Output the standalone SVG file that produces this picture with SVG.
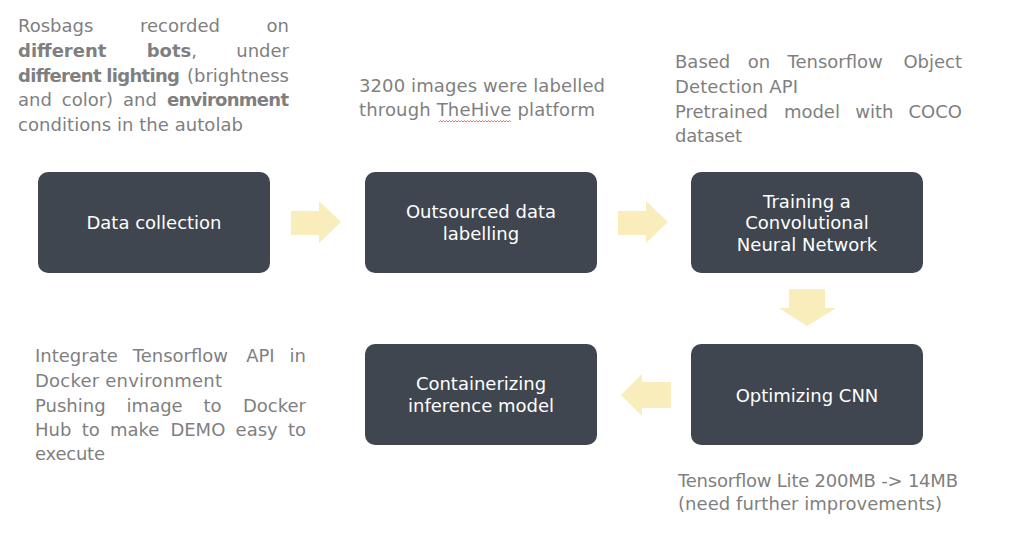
<svg xmlns="http://www.w3.org/2000/svg" width="1014" height="550" viewBox="0 0 1014 550">
<style>
.t{font-family:"DejaVu Sans","Liberation Sans",sans-serif;font-size:18px;fill:#7f7f7f}
.b{font-weight:bold}
.e{text-anchor:end}
.box{fill:#3f4650}
.w{font-family:"DejaVu Sans","Liberation Sans",sans-serif;font-size:18px;fill:#ffffff;text-anchor:middle}
.arr{fill:#f9edbb}
</style>
<rect width="1014" height="550" fill="#ffffff"/>

<g id="connectors">
<polygon class="arr" points="291,211 319,211 319,201 341,222 319,243 319,235 291,235"/>
<polygon class="arr" points="618,211 646,211 646,201 668,222 646,243 646,235 618,235"/>
<polygon class="arr" points="789,289 825,289 825,308 836,308 807,326 779,308 789,308"/>
<polygon class="arr" points="671,382 642,382 642,374 621,395 642,416 642,408 671,408"/>
</g>

<g id="node-data-collection">
<rect class="box" x="38" y="172" width="232" height="101" rx="10"/>
<text class="w" x="154" y="229">Data collection</text>
</g>
<g id="node-outsourced">
<rect class="box" x="365" y="172" width="232" height="101" rx="10"/>
<text class="w" x="481" y="218">Outsourced data</text>
<text class="w" x="481" y="240">labelling</text>
</g>
<g id="node-training">
<rect class="box" x="691" y="172" width="232" height="101" rx="10"/>
<text class="w" x="807" y="208">Training a</text>
<text class="w" x="807" y="229">Convolutional</text>
<text class="w" x="807" y="251">Neural Network</text>
</g>
<g id="node-optimizing">
<rect class="box" x="691" y="344" width="232" height="101" rx="10"/>
<text class="w" x="807" y="402">Optimizing CNN</text>
</g>
<g id="node-containerizing">
<rect class="box" x="365" y="344" width="232" height="101" rx="10"/>
<text class="w" x="481" y="390">Containerizing</text>
<text class="w" x="481" y="412">inference model</text>
</g>

<g id="note-data">
<text class="t" x="18" y="32">Rosbags</text>
<text class="t" x="140" y="32">recorded</text>
<text class="t e" x="289" y="32">on</text>
<text class="t b" x="18" y="57">different</text>
<text class="t" x="146.7" y="57"><tspan class="b">bots</tspan>,</text>
<text class="t e" x="289" y="57">under</text>
<text class="t b" x="18" y="82" textLength="162">different lighting</text>
<text class="t e" x="289" y="82">(brightness</text>
<text class="t" x="18" y="106">and</text>
<text class="t" x="61.8" y="106">color)</text>
<text class="t" x="123.1" y="106">and</text>
<text class="t b e" x="289" y="106" textLength="122">environment</text>
<text class="t" x="18" y="131" textLength="225">conditions in the autolab</text>
</g>

<g id="note-labelling">
<text class="t" x="359" y="92" textLength="246">3200 images were labelled</text>
<text class="t" x="359" y="116" textLength="236">through TheHive platform</text>
<path d="M439 122 l1.5 -1.5 l1.5 1.5 l1.5 -1.5 l1.5 1.5 l1.5 -1.5 l1.5 1.5 l1.5 -1.5 l1.5 1.5 l1.5 -1.5 l1.5 1.5 l1.5 -1.5 l1.5 1.5 l1.5 -1.5 l1.5 1.5 l1.5 -1.5 l1.5 1.5 l1.5 -1.5 l1.5 1.5 l1.5 -1.5 l1.5 1.5 l1.5 -1.5 l1.5 1.5 l1.5 -1.5 l1.5 1.5 l1.5 -1.5 l1.5 1.5 l1.5 -1.5 l1.5 1.5 l1.5 -1.5 l1.5 1.5 l1.5 -1.5 l1.5 1.5 l1.5 -1.5 l1.5 1.5 l1.5 -1.5 l1.5 1.5 l1.5 -1.5 l1.5 1.5 l1.5 -1.5 l1.5 1.5 l1.5 -1.5 l1.5 1.5 l1.5 -1.5 l1.5 1.5 l1.5 -1.5 l1.5 1.5 l1.5 -1.5 l1.5 1.5" fill="none" stroke="#e06666" stroke-width="0.9"/>
</g>

<g id="note-training">
<text class="t" x="675" y="68">Based</text>
<text class="t" x="747.7" y="68">on</text>
<text class="t" x="787.5" y="68">Tensorflow</text>
<text class="t e" x="962" y="68">Object</text>
<text class="t" x="675" y="93" textLength="123">Detection API</text>
<text class="t" x="675" y="118">Pretrained</text>
<text class="t" x="783.9" y="118">model</text>
<text class="t" x="855.2" y="118">with</text>
<text class="t e" x="962" y="118">COCO</text>
<text class="t" x="675" y="142" textLength="67">dataset</text>
</g>

<g id="note-containerizing">
<text class="t" x="35" y="362">Integrate</text>
<text class="t" x="132.8" y="362">Tensorflow</text>
<text class="t" x="246.2" y="362">API</text>
<text class="t e" x="306" y="362">in</text>
<text class="t" x="35" y="387" textLength="187">Docker environment</text>
<text class="t" x="35" y="412">Pushing</text>
<text class="t" x="126.6" y="412">image</text>
<text class="t" x="203.4" y="412">to</text>
<text class="t e" x="306" y="412">Docker</text>
<text class="t" x="35" y="436">Hub</text>
<text class="t" x="81.7" y="436">to</text>
<text class="t" x="110" y="436">make</text>
<text class="t" x="170.4" y="436">DEMO</text>
<text class="t" x="235.6" y="436">easy</text>
<text class="t e" x="306" y="436">to</text>
<text class="t" x="35" y="460" textLength="70">execute</text>
</g>

<g id="note-optimizing">
<text class="t" x="678" y="487" textLength="280">Tensorflow Lite 200MB -&gt; 14MB</text>
<text class="t" x="678" y="510" textLength="264">(need further improvements)</text>
</g>
</svg>
